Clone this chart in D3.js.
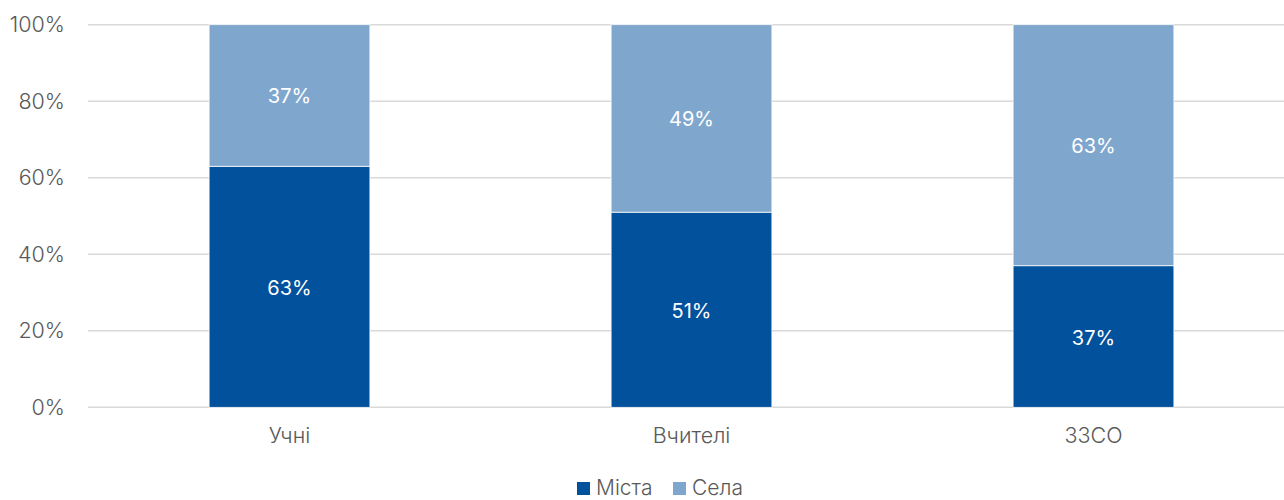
<!DOCTYPE html>
<html>
<head>
<meta charset="utf-8">
<script src="https://cdn.jsdelivr.net/npm/d3@7"></script>
<style>
  body { margin: 0; background: #fff; }
  text { font-family: Inter, "Noto Sans", sans-serif; }
</style>
</head>
<body>
<div id="chart-container"></div>
<script>
// chart data
var categories = ["Учні", "Вчителі", "ЗЗСО"];
var cities = [63, 51, 37];
var villages = [37, 49, 63];
var seriesNames = ["Міста", "Села"];
var yTicks = [0, 20, 40, 60, 80, 100];

var colors = ["#02519C", "#7FA7CE"];
var width = 1284, height = 500;

var svg = d3.select("#chart-container")
    .append("svg")
    .attr("width", width)
    .attr("height", height);

var x = d3.scaleBand()
    .domain(categories)
    .range([88.5, 1294.5])
    .paddingInner(0.6)
    .paddingOuter(0.3);

var y = d3.scaleLinear()
    .domain([0, 100])
    .range([407.3, 24.7]);

// gridlines
svg.append("g")
    .selectAll("line")
    .data(yTicks)
    .enter().append("line")
    .attr("x1", 88)
    .attr("x2", width)
    .attr("y1", function (d) { return y(d); })
    .attr("y2", function (d) { return y(d); })
    .attr("stroke", "#d9d9d9")
    .attr("stroke-width", 1.5);

// y axis labels
var yAxis = d3.axisLeft(y)
    .tickValues(yTicks)
    .tickSize(0)
    .tickPadding(0)
    .tickFormat(function (d) { return d + "%"; });

svg.append("g")
    .attr("class", "y-axis")
    .attr("transform", "translate(65,0)")
    .call(yAxis)
    .call(function (g) { g.select(".domain").remove(); })
    .selectAll("text")
    .style("font-size", "21.5px")
    .style("font-weight", "300")
    .attr("fill", "#595959");

// stacked data
var rows = categories.map(function (c, i) {
    return { cat: c, "Міста": cities[i], "Села": villages[i] };
});
var stacked = d3.stack().keys(seriesNames)(rows);

var layers = svg.selectAll("g.layer")
    .data(stacked)
    .enter().append("g")
    .attr("class", "layer")
    .attr("fill", function (d, i) { return colors[i]; });

layers.selectAll("rect")
    .data(function (d) { return d; })
    .enter().append("rect")
    .attr("x", function (d) { return x(d.data.cat); })
    .attr("width", x.bandwidth())
    .attr("y", function (d) { return y(d[1]); })
    .attr("height", function (d) { return y(d[0]) - y(d[1]); })
    .attr("stroke", "#fff")
    .attr("stroke-width", 0.75);

layers.selectAll("text")
    .data(function (d) { return d; })
    .enter().append("text")
    .attr("x", function (d) { return x(d.data.cat) + x.bandwidth() / 2; })
    .attr("y", function (d) { return (y(d[0]) + y(d[1])) / 2; })
    .attr("text-anchor", "middle")
    .attr("dy", "0.4em")
    .attr("fill", "#fff")
    .style("font-size", "20px")
    .text(function (d) { return (d[1] - d[0]) + "%"; });

// x axis labels
var xAxis = d3.axisBottom(x).tickSize(0).tickPadding(0);
svg.append("g")
    .attr("class", "x-axis")
    .attr("transform", "translate(0,428)")
    .call(xAxis)
    .call(function (g) { g.select(".domain").remove(); })
    .selectAll("text")
    .style("font-size", "21.5px")
    .style("font-weight", "300")
    .attr("fill", "#595959");

// legend
var legendPos = [577, 673];
var legend = svg.selectAll("g.legend")
    .data(seriesNames)
    .enter().append("g")
    .attr("class", "legend")
    .attr("transform", function (d, i) { return "translate(" + legendPos[i] + ",482)"; });

legend.append("rect")
    .attr("width", 13)
    .attr("height", 13)
    .attr("fill", function (d, i) { return colors[i]; });

legend.append("text")
    .attr("x", 19)
    .attr("y", 13)
    .attr("fill", "#595959")
    .style("font-size", "21px")
    .style("font-weight", "300")
    .text(function (d) { return d; });
</script>
</body>
</html>
